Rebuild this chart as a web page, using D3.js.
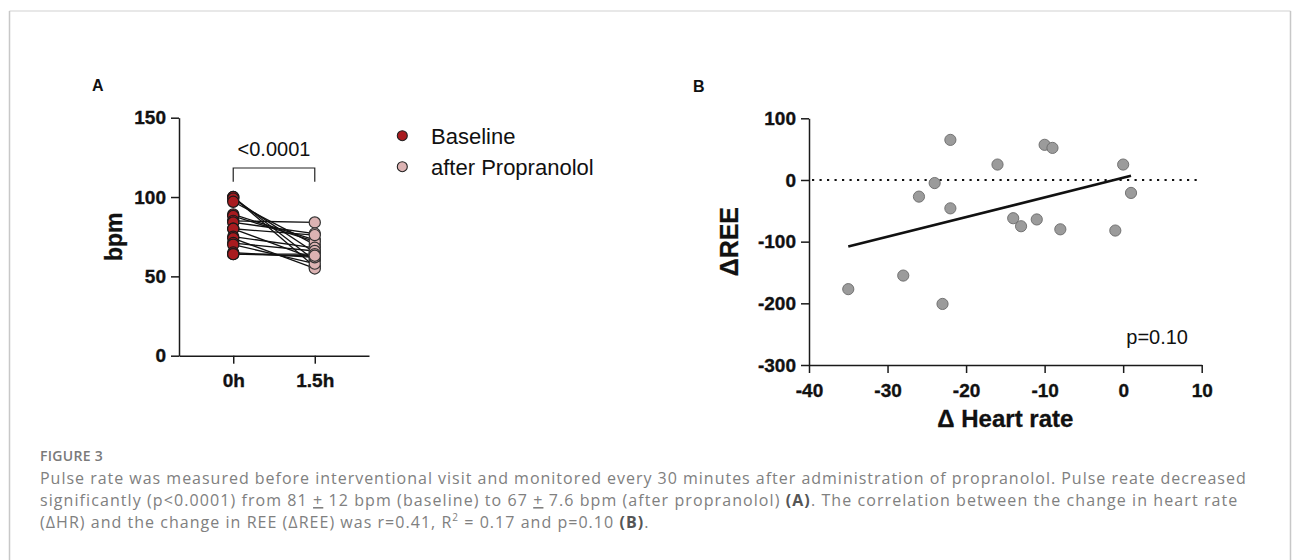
<!DOCTYPE html>
<html>
<head>
<meta charset="utf-8">
<script src="https://cdn.jsdelivr.net/npm/d3@7"></script>
<style>
  html, body { margin: 0; padding: 0; background: #fff; }
  svg { display: block; }
</style>
</head>
<body>
<svg id="chart" width="1295" height="560"></svg>
<script>
// ---------------- DATA ----------------
const timepoints = ["0h", "1.5h"];
const baselineBpm = [100, 100, 99, 97, 89, 88, 85, 84, 80, 80, 75, 74, 71, 70, 65, 64, 64];
const afterBpm    = [60, 56, 65, 70, 73, 72, 84, 77, 76, 61, 68, 55, 66, 58, 62, 64, 63];
const yTicksA = [0, 50, 100, 150];
const legendLabels = ["Baseline", "after Propranolol"];
const pLabelA = "<0.0001";

const deltaHR  = [-35, -28, -23, -26, -24, -22, -22, -16, -14, -13, -11, -10, -9, -8, -1, 0, 1];
const deltaREE = [-177, -155, -201, -27, -5, 65, -46, 25, -62, -75, -64, 57, 52, -80, -82, 25, -21];
const xTicksB = [-40, -30, -20, -10, 0, 10];
const yTicksB = [-300, -200, -100, 0, 100];
const pLabelB = "p=0.10";

// ---------------- STYLE ----------------
const AX_FONT = "'Liberation Sans', Arial, Helvetica, sans-serif";
const CAP_FONT = "'Open Sans', 'Noto Sans', sans-serif";
const RED = "#a81b1f";
const PINK = "#dcb3b3";
const GREY = "#9b9b9b";
const AXC = "#1a1a1a";

const svg = d3.select("#chart");

// frame
svg.append("line").attr("x1", 9.5).attr("x2", 1290.5).attr("y1", 11).attr("y2", 11)
  .attr("stroke", "#e0e0e0").attr("stroke-width", 1.5);
svg.append("line").attr("x1", 9.5).attr("x2", 9.5).attr("y1", 11).attr("y2", 560)
  .attr("stroke", "#c8c8c8").attr("stroke-width", 1.5);
svg.append("line").attr("x1", 1290.5).attr("x2", 1290.5).attr("y1", 11).attr("y2", 560)
  .attr("stroke", "#c8c8c8").attr("stroke-width", 1.5);

function styleAxis(g) {
  g.select(".domain").attr("stroke", AXC).attr("stroke-width", 1.5);
  g.selectAll(".tick line").attr("stroke", AXC).attr("stroke-width", 1.5);
  g.selectAll(".tick text").attr("fill", "#111").attr("font-family", AX_FONT)
    .attr("font-weight", "bold").attr("font-size", 19)
    .attr("stroke", "#111").attr("stroke-width", 0.35);
}
const plain = d => String(d);

// ---------------- PANEL A ----------------
svg.append("text").attr("x", 92).attr("y", 91).text("A")
  .attr("font-family", AX_FONT).attr("font-weight", "bold").attr("font-size", 16).attr("fill", "#111");

const xA = d3.scalePoint().domain(timepoints).range([179, 369]).padding(0.665);
const yA = d3.scaleLinear().domain([0, 150]).range([355.7, 117.7]);

const gAy = svg.append("g").attr("transform", "translate(179,0)")
  .call(d3.axisLeft(yA).tickValues(yTicksA).tickFormat(plain).tickSize(8).tickSizeOuter(0).tickPadding(5));
styleAxis(gAy);
const gAx = svg.append("g").attr("transform", "translate(0,355.7)")
  .call(d3.axisBottom(xA).tickSize(8).tickSizeOuter(0).tickPadding(9.5));
styleAxis(gAx);

svg.append("text").attr("transform", `translate(121.7,${(yA(0) + yA(150)) / 2}) rotate(-90)`)
  .attr("text-anchor", "middle").text("bpm")
  .attr("font-family", AX_FONT).attr("font-weight", "bold").attr("font-size", 23).attr("fill", "#111")
  .attr("stroke", "#111").attr("stroke-width", 0.3);

// paired lines
const pairs = baselineBpm.map((b, i) => ({ b, a: afterBpm[i] }));
svg.append("g").selectAll("line").data(pairs).join("line")
  .attr("x1", xA(timepoints[0])).attr("x2", xA(timepoints[1]))
  .attr("y1", d => yA(d.b)).attr("y2", d => yA(d.a))
  .attr("stroke", "#111").attr("stroke-width", 1.3);
svg.append("g").selectAll("circle").data(baselineBpm).join("circle")
  .attr("cx", xA(timepoints[0])).attr("cy", d => yA(d)).attr("r", 5.6)
  .attr("fill", RED).attr("stroke", "#1a1a1a").attr("stroke-width", 1.2);
svg.append("g").selectAll("circle").data(afterBpm).join("circle")
  .attr("cx", xA(timepoints[1])).attr("cy", d => yA(d)).attr("r", 5.6)
  .attr("fill", PINK).attr("stroke", "#333").attr("stroke-width", 1.2);

// significance bracket
const bx1 = xA(timepoints[0]), bx2 = xA(timepoints[1]);
svg.append("path").attr("d", `M${bx1},181.7V168H${bx2}V181.7`)
  .attr("fill", "none").attr("stroke", "#222").attr("stroke-width", 1.2);
svg.append("text").attr("x", (bx1 + bx2) / 2).attr("y", 156).attr("text-anchor", "middle")
  .text(pLabelA).attr("font-family", AX_FONT).attr("font-size", 20).attr("fill", "#111");

// legend
const legColors = [RED, PINK];
legendLabels.forEach((lab, i) => {
  const cy = 135.7 + i * 31;
  svg.append("circle").attr("cx", 402.3).attr("cy", cy).attr("r", 5)
    .attr("fill", legColors[i]).attr("stroke", "#222").attr("stroke-width", 1.1);
  svg.append("text").attr("x", 431).attr("y", cy + 7.8).text(lab)
    .attr("font-family", AX_FONT).attr("font-size", 22).attr("fill", "#111");
});

// ---------------- PANEL B ----------------
svg.append("text").attr("x", 693).attr("y", 92).text("B")
  .attr("font-family", AX_FONT).attr("font-weight", "bold").attr("font-size", 16).attr("fill", "#111");

const xB = d3.scaleLinear().domain([-40, 10]).range([809, 1201.7]);
const yB = d3.scaleLinear().domain([-300, 100]).range([365, 118.3]);

const gBy = svg.append("g").attr("transform", "translate(809,0)")
  .call(d3.axisLeft(yB).tickValues(yTicksB).tickFormat(plain).tickSize(8).tickSizeOuter(0).tickPadding(5));
styleAxis(gBy);
const gBx = svg.append("g").attr("transform", "translate(0,365)")
  .call(d3.axisBottom(xB).tickValues(xTicksB).tickFormat(plain).tickSize(8).tickSizeOuter(0).tickPadding(10.5));
styleAxis(gBx);

svg.append("text").attr("transform", `translate(738.3,${(yB(-300) + yB(100)) / 2}) rotate(-90)`)
  .attr("text-anchor", "middle").text("\u0394REE")
  .attr("font-family", AX_FONT).attr("font-weight", "bold").attr("font-size", 25).attr("fill", "#111")
  .attr("stroke", "#111").attr("stroke-width", 0.3);
svg.append("text").attr("x", (xB(-40) + xB(10)) / 2).attr("y", 427).attr("text-anchor", "middle")
  .text("\u0394 Heart rate")
  .attr("font-family", AX_FONT).attr("font-weight", "bold").attr("font-size", 24).attr("fill", "#111")
  .attr("stroke", "#111").attr("stroke-width", 0.3);

// zero reference line
svg.append("line").attr("x1", xB(-40) + 3).attr("x2", xB(10)).attr("y1", yB(0)).attr("y2", yB(0))
  .attr("stroke", "#111").attr("stroke-width", 2.2).attr("stroke-dasharray", "2.2,5.3");

// regression line (least squares on the points)
const mx = d3.mean(deltaHR), my = d3.mean(deltaREE);
let sxy = 0, sxx = 0;
deltaHR.forEach((x, i) => { sxy += (x - mx) * (deltaREE[i] - my); sxx += (x - mx) * (x - mx); });
const slope = sxy / sxx, icpt = my - slope * mx;
const [xmin, xmax] = d3.extent(deltaHR);
svg.append("line")
  .attr("x1", xB(xmin)).attr("y1", yB(icpt + slope * xmin))
  .attr("x2", xB(xmax)).attr("y2", yB(icpt + slope * xmax))
  .attr("stroke", "#111").attr("stroke-width", 2.6);

// points
svg.append("g").selectAll("circle").data(deltaHR.map((x, i) => [x, deltaREE[i]])).join("circle")
  .attr("cx", d => xB(d[0])).attr("cy", d => yB(d[1])).attr("r", 5.6)
  .attr("fill", GREY).attr("stroke", "#6a6a6a").attr("stroke-width", 0.9);

svg.append("text").attr("x", 1188).attr("y", 344).attr("text-anchor", "end").text(pLabelB)
  .attr("font-family", AX_FONT).attr("font-size", 20).attr("fill", "#111");

// ---------------- CAPTION ----------------
svg.append("text").attr("x", 40).attr("y", 461).text("FIGURE 3")
  .attr("font-family", CAP_FONT).attr("font-weight", 600).attr("font-size", 14)
  .attr("letter-spacing", 0.3).attr("fill", "#7a7a7a");

const capColor = "#808080";
function capLine(y) {
  return svg.append("text").attr("x", 40).attr("y", y)
    .attr("font-family", CAP_FONT).attr("font-size", 16).attr("fill", capColor);
}
const l1 = capLine(484);
l1.text("Pulse rate was measured before interventional visit and monitored every 30 minutes after administration of propranolol. Pulse reate decreased");

const l2 = capLine(506);
l2.append("tspan").text("significantly (p<0.0001) from 81 ");
l2.append("tspan").text("+").style("text-decoration", "underline");
l2.append("tspan").text(" 12 bpm (baseline) to 67 ");
l2.append("tspan").text("+").style("text-decoration", "underline");
l2.append("tspan").text(" 7.6 bpm (after propranolol) ");
l2.append("tspan").text("(A)").attr("font-weight", "bold").attr("fill", "#555");
l2.append("tspan").text(". The correlation between the change in heart rate");

const l3 = capLine(528);
l3.append("tspan").text("(\u0394HR) and the change in REE (\u0394REE) was r=0.41, R");
l3.append("tspan").text("2").attr("font-size", 10).attr("dy", -7);
l3.append("tspan").text(" = 0.17 and p=0.10 ").attr("dy", 7);
l3.append("tspan").text("(B)").attr("font-weight", "bold").attr("fill", "#555");
l3.append("tspan").text(".");

// fit justified lines to measured widths
function fit(sel, target) {
  const n = sel.text().length;
  const w = sel.node().getComputedTextLength();
  const ls = (target - w) / (n - 1);
  sel.attr("letter-spacing", ls);
  return ls;
}
const ls1 = fit(l1, 1205.7);
const ls2 = fit(l2, 1197.3);
l3.attr("letter-spacing", (ls1 + ls2) / 2);
</script>
</body>
</html>
